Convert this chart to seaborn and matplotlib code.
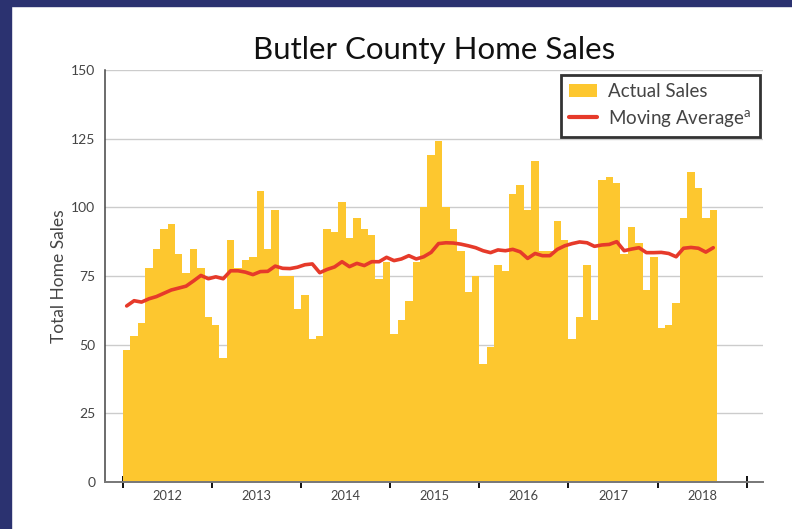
import matplotlib
matplotlib.use("Agg")
import matplotlib.pyplot as plt
from matplotlib.patches import Rectangle, Patch
from matplotlib.lines import Line2D
import numpy as np
import pandas as pd
import seaborn as sns

# monthly home sales, Jan 2012 .. Aug 2018
sales_2012 = [48, 53, 58, 78, 85, 92, 94, 83, 76, 85, 78, 60]
sales_2013 = [57, 45, 88, 78, 81, 82, 106, 85, 99, 75, 75, 63]
sales_2014 = [68, 52, 53, 92, 91, 102, 89, 96, 92, 90, 74, 80]
sales_2015 = [54, 59, 66, 80, 100, 119, 124, 100, 92, 84, 69, 75]
sales_2016 = [43, 49, 79, 77, 105, 108, 99, 117, 84, 84, 95, 88]
sales_2017 = [52, 60, 79, 59, 110, 111, 109, 83, 93, 87, 70, 82]
sales_2018 = [56, 57, 65, 96, 113, 107, 96, 99]

moving_avg = [64.1, 66.0, 65.5, 66.7, 67.5, 68.7, 69.9, 70.6, 71.3, 73.2, 75.2, 74.0,
              74.7, 74.0, 76.9, 76.9, 76.4, 75.5, 76.6, 76.7, 78.6, 77.8, 77.7, 78.2,
              79.1, 79.4, 76.2, 77.4, 78.3, 80.2, 78.4, 79.6, 78.8, 80.2, 80.2, 81.8,
              80.6, 81.2, 82.4, 81.2, 82.0, 83.6, 86.8, 87.1, 87.0, 86.6, 86.0, 85.3,
              84.2, 83.5, 84.5, 84.2, 84.7, 83.8, 81.4, 83.2, 82.4, 82.4, 84.7, 86.0,
              86.8, 87.4, 87.1, 85.8, 86.3, 86.5, 87.5, 84.2, 84.8, 85.3, 83.5, 83.5,
              83.6, 83.2, 82.0, 85.1, 85.4, 85.1, 83.7, 85.3]

years = ["2012", "2013", "2014", "2015", "2016", "2017", "2018"]

sales = sales_2012 + sales_2013 + sales_2014 + sales_2015 + sales_2016 + sales_2017 + sales_2018
df = pd.DataFrame({"month": np.arange(len(sales)), "sales": sales, "ma": moving_avg})

BAR = "#FDC72F"
LINE = "#E63A2A"
NAVY = "#2B3270"
TXT = "#444444"

sns.set_style("white")
plt.rcParams["font.family"] = ["Lato", "DejaVu Sans"]
plt.rcParams["mathtext.default"] = "regular"

fig = plt.figure(figsize=(7.92, 5.29), dpi=100)
ax = fig.add_axes([105 / 792, 1 - 482 / 529, (763 - 105) / 792, (482 - 70) / 529])

# navy frame strips on the left and top
fig.patches.append(Rectangle((0, 0), 11 / 792, 1, transform=fig.transFigure,
                             color=NAVY, zorder=0))
fig.patches.append(Rectangle((0, 1 - 6 / 529), 1, 6 / 529, transform=fig.transFigure,
                             color=NAVY, zorder=0))

sns.barplot(data=df, x="month", y="sales", color=BAR, width=1.0, native_scale=True,
            linewidth=0, saturation=1, ax=ax, zorder=2)
sns.lineplot(data=df, x="month", y="ma", color=LINE, linewidth=2.6, ax=ax, zorder=3)

ax.set_ylim(0, 150)
ax.set_yticks([0, 25, 50, 75, 100, 125, 150])
ax.set_xlim(-2.92, 85.7)
ax.yaxis.grid(True, color="#cccccc", linewidth=1.0, zorder=0)
ax.set_axisbelow(True)

year_edges = np.arange(len(years) + 1) * 12 - 0.5
ax.set_xticks(year_edges)
ax.set_xticklabels([])
ax.set_xticks(np.arange(len(years)) * 12 + 5.5, minor=True)
ax.set_xticklabels(years, minor=True)
ax.tick_params(axis="x", which="major", bottom=True, direction="inout", length=9,
               width=1.4, color="#111111")
ax.tick_params(axis="x", which="minor", bottom=True, length=0, pad=6, labelsize=9.3,
               labelcolor=TXT)
ax.tick_params(axis="y", left=False, length=0, pad=7, labelsize=10, labelcolor=TXT)

for s in ["top", "right"]:
    ax.spines[s].set_visible(False)
ax.spines["left"].set_color("#444444")
ax.spines["left"].set_linewidth(1.1)
ax.spines["bottom"].set_color("#777777")
ax.spines["bottom"].set_linewidth(1.4)

ax.set_xlabel("")
ax.set_ylabel("Total Home Sales", fontsize=12.5, color=TXT, labelpad=3)
ax.set_title("Butler County Home Sales", fontsize=22.5, color="#111111", pad=8)

handles = [Patch(facecolor=BAR, edgecolor="none"),
           Line2D([0], [0], color=LINE, linewidth=3)]
leg = ax.legend(handles, ["Actual Sales", "Moving Average$^{a}$"], loc="upper right",
                bbox_to_anchor=(0.9954, 0.988), borderaxespad=0, fontsize=13.5,
                frameon=True, fancybox=False, borderpad=0.45, handlelength=1.5,
                handletextpad=0.6, labelspacing=0.4, labelcolor=TXT)
leg.get_frame().set_edgecolor("black")
leg.get_frame().set_linewidth(2)

fig.savefig("out.png", dpi=100)
